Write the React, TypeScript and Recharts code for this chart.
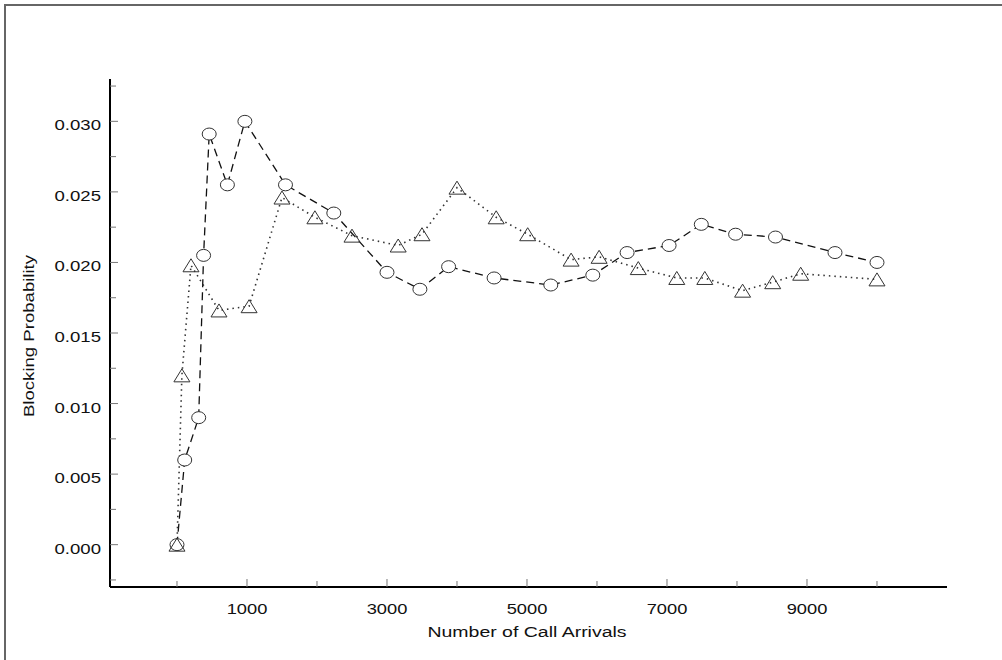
import { LineChart, Line, XAxis, YAxis, Label } from 'recharts';

// --- data ---
const circleX = [0, 110, 310, 380, 460, 720, 970, 1550, 2240, 3000, 3470, 3880, 4530, 5340, 5940, 6430, 7030, 7490, 7980, 8550, 9400, 10000];
const circleY = [0.0, 0.006, 0.009, 0.0205, 0.0291, 0.0255, 0.03, 0.0255, 0.0235, 0.0193, 0.0181, 0.0197, 0.0189, 0.0184, 0.0191, 0.0207, 0.0212, 0.0227, 0.022, 0.0218, 0.0207, 0.02];

const triangleX = [0, 70, 200, 600, 1030, 1500, 1970, 2500, 3160, 3500, 4000, 4560, 5010, 5630, 6030, 6590, 7140, 7540, 8080, 8510, 8910, 10000];
const triangleY = [0.0, 0.012, 0.0198, 0.0166, 0.0169, 0.0246, 0.0232, 0.0219, 0.0212, 0.022, 0.0253, 0.0232, 0.022, 0.0202, 0.0204, 0.0196, 0.0189, 0.0189, 0.018, 0.0186, 0.0192, 0.0188];

const xTicks = [0, 1000, 2000, 3000, 4000, 5000, 6000, 7000, 8000, 9000, 10000];
const xLabels = [1000, 3000, 5000, 7000, 9000];
const yTicks = [-0.0025, 0, 0.0025, 0.005, 0.0075, 0.01, 0.0125, 0.015, 0.0175, 0.02, 0.0225, 0.025, 0.0275, 0.03, 0.0325];
const yLabels = [0, 0.005, 0.01, 0.015, 0.02, 0.025, 0.03];

const circleData = circleX.map((x, i) => ({ x, y: circleY[i] }));
const triangleData = triangleX.map((x, i) => ({ x, y: triangleY[i] }));

const FONT = '"Liberation Sans", Arial, sans-serif';

const isLabel = (list: number[], v: number) => list.some(l => Math.abs(l - v) < 1e-9);

const XTick = (props: any) => {
    const { x, y, payload } = props;
    const major = isLabel(xLabels, payload.value);
    return (
        <g transform={`translate(${x},${y})`}>
            <line x1={0} y1={0} x2={0} y2={major ? -8 : -6} stroke="#777" strokeWidth={1} />
            {major && (
                <text transform="scale(1.22,1)" x={0} y={27} textAnchor="middle" fontSize={15} fontFamily={FONT} fill="#111">
                    {payload.value}
                </text>
            )}
        </g>
    );
};

const YTick = (props: any) => {
    const { x, y, payload } = props;
    const major = isLabel(yLabels, payload.value);
    return (
        <g transform={`translate(${x},${y})`}>
            <line x1={0} y1={0} x2={major ? 8 : 6} y2={0} stroke="#777" strokeWidth={1} />
            {major && (
                <g transform="translate(-9,9) scale(1.24,1)">
                    <text x={0} y={0} textAnchor="end" fontSize={15} fontFamily={FONT} fill="#111">
                        {payload.value.toFixed(3)}
                    </text>
                </g>
            )}
        </g>
    );
};

const CircleDot = (props: any) => {
    const { cx, cy, index } = props;
    return <ellipse key={`c-${index}`} cx={cx} cy={cy} rx={7} ry={6} fill="#fff" stroke="#333" strokeWidth={1} />;
};

const TriangleDot = (props: any) => {
    const { cx, cy, index } = props;
    const pts = `${cx - 8},${cy + 6.5} ${cx + 8},${cy + 6.5} ${cx},${cy - 6.5}`;
    return <polygon key={`t-${index}`} points={pts} fill="#fff" fillOpacity={0} stroke="#333" strokeWidth={1} />;
};

export default function App() {
    return (
        <div style={{ position: 'absolute', left: 0, top: 0, width: 1002, height: 660, background: '#fff' }}>
            <div
                style={{
                    position: 'absolute',
                    left: 4,
                    top: 4,
                    right: 0,
                    bottom: 0,
                    borderTop: '2px solid #666',
                    borderLeft: '2px solid #666',
                }}
            />
            <div style={{ position: 'absolute', left: 0, top: 0 }}>
                <LineChart width={1002} height={660} margin={{ top: 79, right: 55, bottom: 43, left: 50 }}>
                    <XAxis
                        type="number"
                        dataKey="x"
                        domain={[-957, 11000]}
                        allowDataOverflow
                        ticks={xTicks}
                        tick={<XTick />}
                        tickLine={false}
                        tickSize={0}
                        tickMargin={0}
                        height={30}
                        axisLine={{ stroke: '#000', strokeWidth: 2 }}
                        interval={0}
                    >
                        <Label
                            content={() => (
                                <g transform="translate(527,637) scale(1.3,1)">
                                    <text x={0} y={0} textAnchor="middle" fontSize={15} fontFamily={FONT} fill="#111">
                                        Number of Call Arrivals
                                    </text>
                                </g>
                            )}
                        />
                    </XAxis>
                    <YAxis
                        type="number"
                        dataKey="y"
                        domain={[-0.003, 0.033]}
                        allowDataOverflow
                        ticks={yTicks}
                        tick={<YTick />}
                        tickLine={false}
                        tickSize={0}
                        tickMargin={0}
                        width={60}
                        axisLine={{ stroke: '#000', strokeWidth: 2 }}
                        interval={0}
                    >
                        <Label
                            content={() => (
                                <g transform="translate(34,336) rotate(-90) scale(1.24,1)">
                                    <text x={0} y={0} textAnchor="middle" fontSize={15} fontFamily={FONT} fill="#111">
                                        Blocking Probability
                                    </text>
                                </g>
                            )}
                        />
                    </YAxis>
                    <Line
                        data={circleData}
                        dataKey="y"
                        type="linear"
                        stroke="#111"
                        strokeWidth={1.3}
                        strokeDasharray="8 5"
                        dot={CircleDot}
                        activeDot={false}
                        isAnimationActive={false}
                    />
                    <Line
                        data={triangleData}
                        dataKey="y"
                        type="linear"
                        stroke="#333"
                        strokeWidth={1.6}
                        strokeDasharray="1.5 4"
                        dot={TriangleDot}
                        activeDot={false}
                        isAnimationActive={false}
                    />
                </LineChart>
            </div>
        </div>
    );
}
